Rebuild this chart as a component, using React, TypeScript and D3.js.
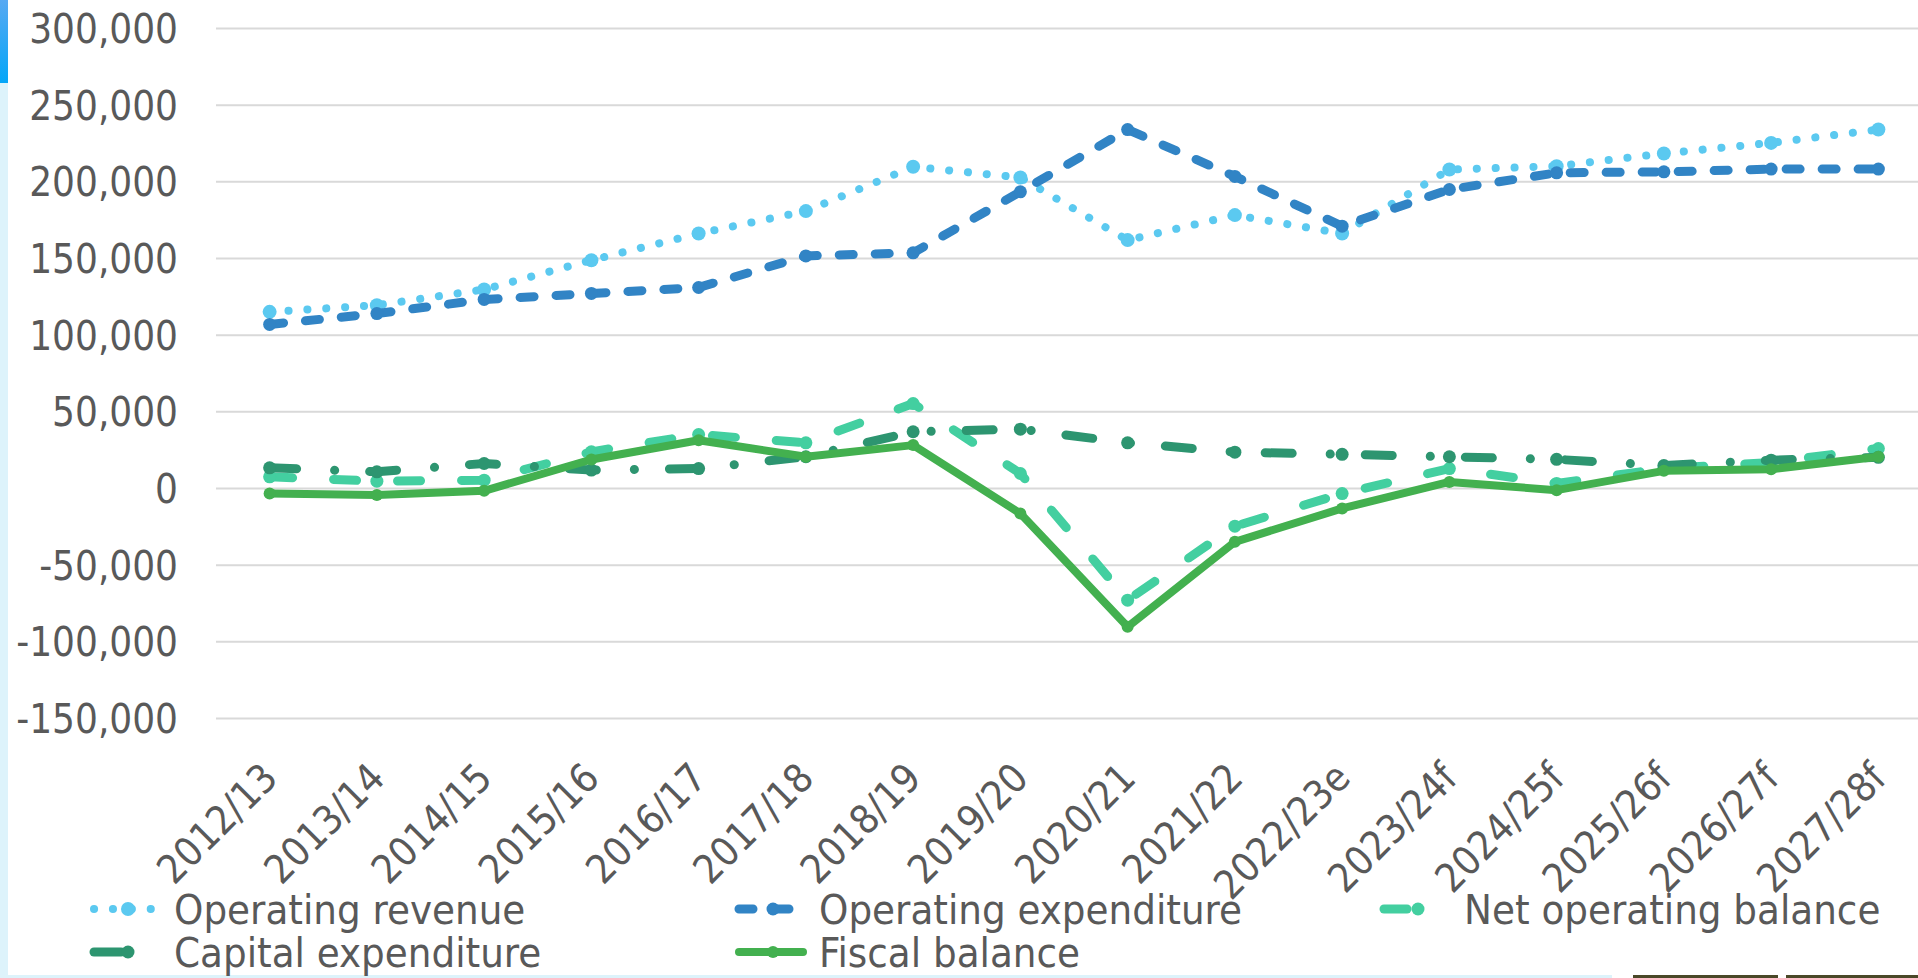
import * as d3 from "d3";

const categories = [
  "2012/13", "2013/14", "2014/15", "2015/16", "2016/17", "2017/18", "2018/19", "2019/20",
  "2020/21", "2021/22", "2022/23e", "2023/24f", "2024/25f", "2025/26f", "2026/27f", "2027/28f",
];

const operatingRevenue = [115200, 119500, 129800, 148900, 166300, 180900, 209800, 202800, 162000, 178300, 166300, 208000, 210200, 218500, 225400, 234100];
const operatingExpenditure = [107000, 114100, 123300, 127200, 131100, 151700, 153700, 193500, 234100, 203500, 171100, 195000, 205900, 206500, 208300, 208300];
const netOperatingBalance = [7600, 4800, 5400, 23900, 35200, 29800, 55400, 9800, -72800, -24600, -3300, 13000, 3300, 13000, 17000, 26100];
const capitalExpenditure = [13500, 10900, 16300, 12000, 13000, 20700, 37000, 38700, 29800, 23700, 22300, 20700, 19000, 15000, 18500, 20300];
const fiscalBalance = [-3300, -4300, -1500, 18900, 31500, 20700, 28300, -16300, -90200, -34800, -13000, 4300, -1100, 11500, 12600, 20700];

const yTicks = [-150000, -100000, -50000, 0, 50000, 100000, 150000, 200000, 250000, 300000];

const W = 1918;
const H = 978;
const FONT = "'DejaVu Sans Condensed', 'DejaVu Sans', sans-serif";
const TEXT = "#595959";

const fmt = d3.formatLocale({
  decimal: ".",
  thousands: ",",
  grouping: [3],
  currency: ["$", ""],
  minus: "-",
}).format(",");

// draw order = Excel series order (last on top)
const series = [
  { name: "Operating revenue", values: operatingRevenue, color: "#5BC9F0", width: 8, dash: "0.1 18.8", r: 7 },
  { name: "Operating expenditure", values: operatingExpenditure, color: "#3184C5", width: 9, dash: "14 22", r: 6.5 },
  { name: "Net operating balance", values: netOperatingBalance, color: "#43CFA0", width: 9, dash: "23 41", r: 6.5 },
  { name: "Capital expenditure", values: capitalExpenditure, color: "#2D9570", width: 9, dash: "27 38 0.1 35", r: 6.5 },
  { name: "Fiscal balance", values: fiscalBalance, color: "#43B04F", width: 8, dash: null, r: 6 },
];

// legend slots: [column x, row y]
const legendSlots = [
  [94, 909],
  [739, 909],
  [1384, 909],
  [94, 952],
  [739, 952],
];

export default function App() {
  const x = d3.scaleBand<string>().domain(categories).range([216, 1932]);
  const cx = (c: string) => (x(c) as number) + x.bandwidth() / 2;
  const y = d3.scaleLinear().domain([-150000, 300000]).range([718.5, 28.5]);

  const line = d3
    .line<number>()
    .x((_, i) => cx(categories[i]))
    .y((d) => y(d));

  return (
    <svg
      width={W}
      height={H}
      style={{ position: "absolute", left: 0, top: 0, background: "#fff" }}
      fontFamily={FONT}
    >
      <defs>
        <linearGradient id="topbar" x1="0" y1="0" x2="0" y2="1">
          <stop offset="0%" stopColor="#58A9F2" />
          <stop offset="100%" stopColor="#04A6F8" />
        </linearGradient>
      </defs>

      {/* slide edges */}
      <rect x={0} y={0} width={8} height={H} fill="#DDF3FB" />
      <rect x={0} y={0} width={8} height={83} fill="url(#topbar)" />
      <rect x={0} y={975} width={1612} height={3} fill="#DDF3FB" />
      <rect x={1633} y={975} width={145} height={3} fill="#4A4828" />
      <rect x={1786} y={975} width={132} height={3} fill="#4A4828" />

      {/* gridlines */}
      {yTicks.map((t) => (
        <line key={t} x1={216} x2={W} y1={y(t)} y2={y(t)} stroke="#D9D9D9" strokeWidth={2} />
      ))}

      {/* y tick labels */}
      {yTicks.map((t) => (
        <text key={t} x={178} y={y(t)} dy="0.36em" textAnchor="end" fontSize={40} fill={TEXT}>
          {fmt(t)}
        </text>
      ))}

      {/* x labels */}
      {categories.map((c) => (
        <text
          key={c}
          transform={`translate(${cx(c)},770) rotate(-45)`}
          dy="0.36em"
          textAnchor="end"
          fontSize={40}
          fill={TEXT}
        >
          {c}
        </text>
      ))}

      {/* series */}
      {series.map((s) => (
        <g key={s.name}>
          <path
            d={line(s.values) || ""}
            fill="none"
            stroke={s.color}
            strokeWidth={s.width}
            strokeDasharray={s.dash || undefined}
            strokeLinecap={s.dash ? "round" : "round"}
            strokeLinejoin="round"
          />
          {s.values.map((v, i) => (
            <circle key={i} cx={cx(categories[i])} cy={y(v)} r={s.r} fill={s.color} />
          ))}
        </g>
      ))}

      {/* legend */}
      {series.map((s, i) => {
        const [lx, ly] = legendSlots[i];
        return (
          <g key={s.name}>
            <line
              x1={lx}
              x2={lx + 64}
              y1={ly}
              y2={ly}
              stroke={s.color}
              strokeWidth={s.width}
              strokeDasharray={s.dash || undefined}
              strokeLinecap="round"
            />
            <circle cx={lx + 34} cy={ly} r={s.r} fill={s.color} />
            <text x={lx + 80} y={ly} dy="0.36em" fontSize={41.5} fill={TEXT}>
              {s.name}
            </text>
          </g>
        );
      })}
    </svg>
  );
}
